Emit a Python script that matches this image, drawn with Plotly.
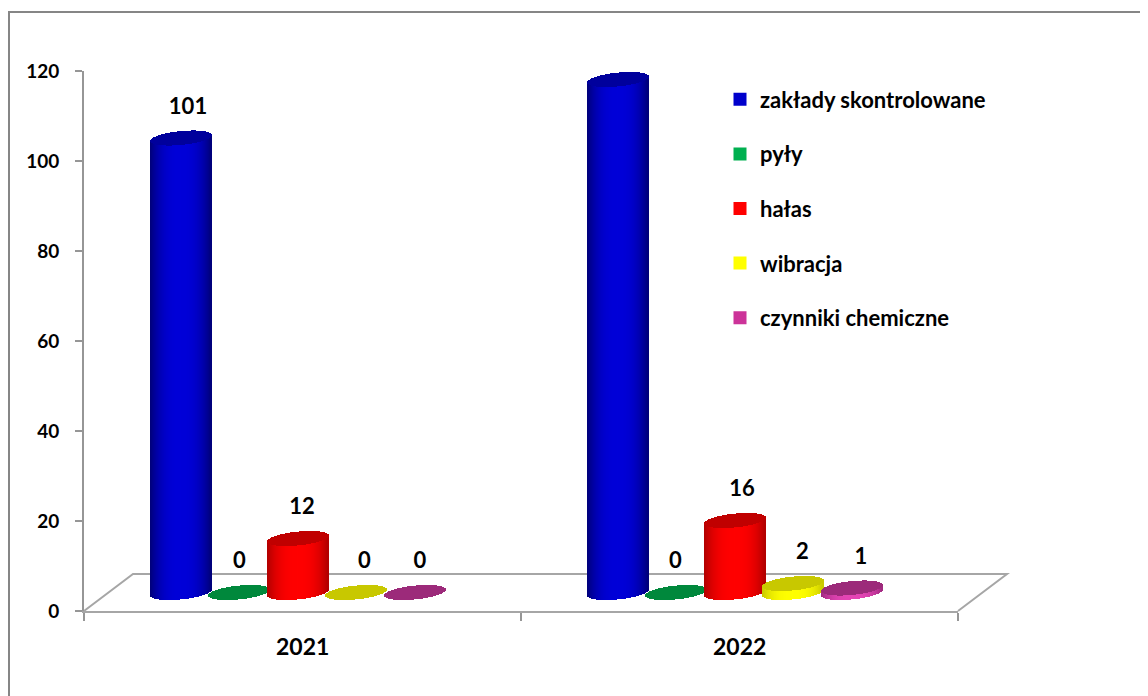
import numpy as np
import plotly.graph_objects as go

years = ["2021", "2022"]
series = ["zakłady skontrolowane", "pyły", "hałas", "wibracja", "czynniki chemiczne"]
zaklady = [101, 114]
pyly = [0, 0]
halas = [12, 16]
wibracja = [0, 2]
chemiczne = [0, 1]
y_ticks = [0, 20, 40, 60, 80, 100, 120]

values = [zaklady, pyly, halas, wibracja, chemiczne]
legend_colors = ["#0000CC", "#00B050", "#FF0000", "#FFFF00", "#CC3399"]
body_center = ["#0000D8", "#00B050", "#FF0000", "#FFFF00", "#E545B5"]
body_edge = ["#000078", "#007030", "#B00000", "#C8C800", "#A02A80"]
cap_colors = ["#00009C", "#00883C", "#C00000", "#C8C800", "#9C2A7A"]
label_nudge = [[7, 0, 4, 8, 5], [5, -1, 7, 9, 9]]

PAGE = 8  # the browser's default page margin
W, H = 1148 - PAGE, 696 - PAGE
L, R, T, B = 84, 958, 71, 611
PX_X = (R - L) / 2.0
PX_Y = (B - T) / 120.0
LIFT = 18.5 / PX_Y
CAP_H = 6.9 / PX_Y
CAP_TILT = 3.0 / PX_Y
HALF_W = 30.5 / PX_X
SPACING = 58.5 / PX_X
SHIFT = -4.5 / PX_X
LABEL_UP = 48.5 / PX_Y
STRIPS = 61
GRAY = "#8C8C8C"


def hex_rgb(c):
    return np.array([int(c[i:i + 2], 16) for i in (1, 3, 5)], dtype=float)


def shade(edge, center, u):
    k = np.clip(abs(u) / 1.0, 0, 1) ** 2.6
    rgb = hex_rgb(center) * (1 - k) + hex_rgb(edge) * k
    return "rgb(%d,%d,%d)" % tuple(rgb)


def px(x):
    return (x - L) / (R - L)


def py(y):
    return (B - y) / (B - T)


us = (np.arange(STRIPS) + 0.5) / STRIPS * 2 - 1
round_part = np.sqrt(1 - us ** 2)
fig = go.Figure()

for s, name in enumerate(series):
    xs, bases, heights, colors = [], [], [], []
    cap_x, cap_base, cap_height = [], [], []
    for c in range(len(years)):
        v = values[s][c]
        cx = c + (s - 2) * SPACING + SHIFT
        strip_x = cx + us * HALF_W
        low_bottom = LIFT + CAP_TILT * us - CAP_H * round_part
        low_top = v + low_bottom
        high_top = v + LIFT + CAP_TILT * us + CAP_H * round_part
        if v > 0:
            xs += list(strip_x)
            bases += list(low_bottom)
            heights += list(low_top - low_bottom)
            colors += [shade(body_edge[s], body_center[s], u) for u in us]
        cap_x += list(strip_x)
        cap_base += list(low_top)
        cap_height += list(high_top - low_top)
    if xs:
        fig.add_trace(go.Bar(x=xs, y=heights, base=bases, width=(2 * HALF_W / STRIPS) * 1.15,
                             marker=dict(color=colors, line=dict(width=0)),
                             showlegend=False, hoverinfo="skip"))
    fig.add_trace(go.Bar(x=cap_x, y=cap_height, base=cap_base, width=(2 * HALF_W / STRIPS) * 1.15,
                         marker=dict(color=cap_colors[s], line=dict(width=0)),
                         showlegend=False, hoverinfo="skip"))
    lx = [c + (s - 2) * SPACING + SHIFT + label_nudge[c][s] / PX_X for c in range(len(years))]
    ly = [values[s][c] + LABEL_UP for c in range(len(years))]
    fig.add_trace(go.Scatter(x=lx, y=ly, mode="text", text=[str(v) for v in values[s]],
                             textposition="middle center", cliponaxis=False,
                             textfont=dict(family="Lato", size=22, color="#000000", weight="bold"),
                             showlegend=False, hoverinfo="skip"))
    fig.add_trace(go.Scatter(x=[None], y=[None], mode="markers", name=name, legendgroup=name,
                             marker=dict(symbol="square", size=13, color=legend_colors[s])))

shapes = [
    dict(type="path", xref="paper", yref="paper",
         path="M %f %f L %f %f L %f %f" % (px(9), py(720), px(9), py(12), px(1200), py(12)),
         line=dict(color="#868686", width=2), layer="below"),
    dict(type="path", xref="paper", yref="paper",
         path="M %f %f L %f %f L %f %f L %f %f" % (px(84), py(611), px(133), py(574), px(1007), py(574), px(958), py(611)),
         line=dict(color="#A6A6A6", width=2), layer="below"),
]

annotations = [dict(x=i, y=py(646), xref="x", yref="paper", yanchor="middle", text=f"<b>{yr}</b>", showarrow=False,
                    font=dict(family="Lato", size=23, color="#000000"))
               for i, yr in enumerate(years)]

fig.update_layout(
    width=W, height=H, autosize=False,
    margin=dict(l=L - PAGE, r=W - (R - PAGE), t=T - PAGE, b=H - (B - PAGE), pad=0),
    paper_bgcolor="white", plot_bgcolor="white",
    barmode="overlay", bargap=0,
    shapes=shapes, annotations=annotations,
    showlegend=True,
    legend=dict(x=px(720), y=py(78.5), xanchor="left", yanchor="top", tracegroupgap=23,
                bgcolor="rgba(0,0,0,0)", borderwidth=0,
                font=dict(family="Lato", size=22, color="#000000", weight="bold")),
    xaxis=dict(range=[-0.5, 1.5], tickvals=[-0.5, 0.5, 1.5], ticktext=["", "", ""], ticks="outside",
               ticklen=8, tickwidth=2, tickcolor="#969696", showline=True, linecolor="#A6A6A6", linewidth=2,
               showgrid=False, zeroline=False, fixedrange=True),
    yaxis=dict(range=[0, 120], tickvals=y_ticks, ticks="outside", ticklen=7, tickwidth=2, tickcolor="#969696",
               showline=True, linecolor="#969696", linewidth=2, showgrid=False, zeroline=False,
               ticklabelstandoff=12, tickfont=dict(family="Lato", size=19, color="#000000", weight="bold"),
               fixedrange=True),
)

fig.write_html("out.html")
